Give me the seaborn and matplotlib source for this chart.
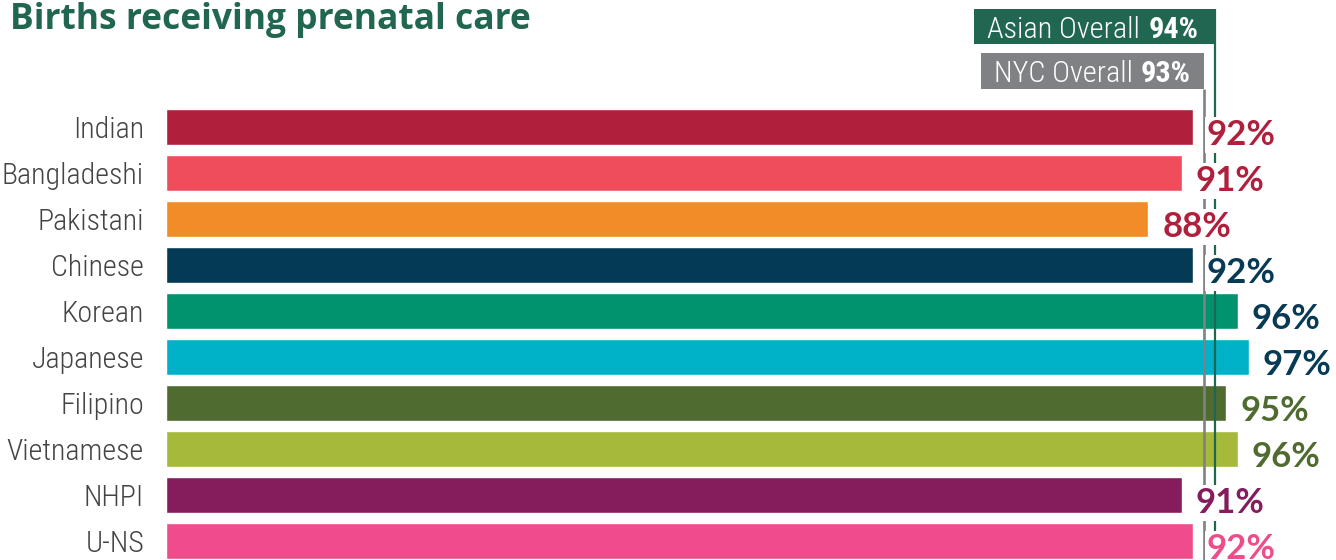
import os
import matplotlib
matplotlib.use("Agg")
import matplotlib.pyplot as plt
import matplotlib.transforms as mtransforms
from matplotlib import font_manager as fm
from matplotlib.patches import Rectangle
import pandas as pd
import seaborn as sns

# Share of births receiving prenatal care, by Asian subgroup
groups = ["Indian", "Bangladeshi", "Pakistani", "Chinese", "Korean",
          "Japanese", "Filipino", "Vietnamese", "NHPI", "U-NS"]
values = [92, 91, 88, 92, 96, 97, 95, 96, 91, 92]
bar_colors = ["#b01f3c", "#ef4d5c", "#f28c26", "#053a55", "#00936e",
              "#00b2c8", "#4f6b30", "#a6b93a", "#851d5c", "#ef4c8c"]
label_colors = ["#b01f3c", "#b01f3c", "#b01f3c", "#063a55", "#063a55",
                "#063a55", "#4f6b30", "#4f6b30", "#851d5c", "#ef4c8c"]
asian_overall = 94
nyc_overall = 93
title = "Births receiving prenatal care"

GREEN = "#216650"
GRAY = "#808184"

sns.set_theme(style="white")
plt.rcParams["font.family"] = ["DejaVu Sans"]


def pick_font(patterns):
    """Return the first installed font file whose name matches a pattern."""
    files = [f.fname for f in fm.fontManager.ttflist]
    files += fm.findSystemFonts()
    for pat in patterns:
        for path in files:
            if os.path.basename(path).lower().startswith(pat.lower()):
                return path
    return None


narrow_regular = pick_font([
    "RobotoCondensed-Light", "RobotoCondensed-Regular",
    "OpenSans-CondLight", "OpenSansCondensed-Light", "OpenSans_Condensed-Light",
    "NotoSans-CondensedLight", "NotoSans-Condensed.",
    "LiberationSansNarrow-Regular", "DejaVuSansCondensed.",
])
narrow_bold = pick_font([
    "RobotoCondensed-Bold", "OpenSans-CondBold", "OpenSansCondensed-Bold",
    "OpenSans_Condensed-Bold", "NotoSans-CondensedBold",
    "LiberationSansNarrow-Bold.", "DejaVuSansCondensed-Bold.",
])


def narrow(size, bold=False):
    path = narrow_bold if bold else narrow_regular
    if path:
        return fm.FontProperties(fname=path, size=size)
    return fm.FontProperties(family="Roboto", size=size * 0.9,
                             weight="bold" if bold else "light")


W, H, DPI = 1336, 560, 100
LEFT = 166
PX_PER_PCT = 11.163
fig = plt.figure(figsize=(W / DPI, H / DPI), dpi=DPI)
ax = fig.add_axes([LEFT / W, 0, 1 - LEFT / W, 1])

df = pd.DataFrame({"group": groups, "value": values})
sns.barplot(data=df, x="value", y="group", hue="group", order=groups,
            hue_order=groups, palette=bar_colors, saturation=1,
            width=0.776, orient="h", legend=False, ax=ax)

ax.set_xlim(0, (W - LEFT) / PX_PER_PCT)
ax.set_ylim(9.415, -2.759)
ax.axis("off")


def shift(dx, dy):
    return mtransforms.offset_copy(ax.transData, fig=fig, x=dx, y=dy, units="dots")


# category names
for i, g in enumerate(groups):
    ax.text(0, i, g, transform=shift(-22, -10.8), ha="right", va="baseline",
            fontproperties=narrow(21.6), color="#444444")

# overall reference lines
ax.plot([asian_overall, asian_overall], [9.415, -2.563], color=GREEN,
        lw=1.6, zorder=2, solid_capstyle="butt")
ax.plot([nyc_overall, nyc_overall], [9.415, -0.824], color=GRAY,
        lw=1.9, zorder=2, solid_capstyle="butt")

# value labels
for i, (v, c) in enumerate(zip(values, label_colors)):
    ax.text(v, i, f"{v}%", transform=shift(14, -18.5), ha="left",
            va="baseline", fontsize=25, family=["Lato", "DejaVu Sans"],
            weight="bold", color=c, zorder=6,
            bbox=dict(boxstyle="square,pad=0.06", fc="white", ec="none"))

# overall boxes
renderer = fig.canvas.get_renderer()
inv = ax.transData.inverted()


def overall_box(value, text, pct, y_top, y_bot, baseline, face, pad_r):
    t_bold = ax.text(value, baseline, pct, transform=shift(-pad_r, 0),
                     ha="right", va="baseline", fontproperties=narrow(21.8, True),
                     color="white", zorder=8)
    bw = t_bold.get_window_extent(renderer).width
    t_reg = ax.text(value, baseline, text, transform=shift(-pad_r - bw - 8, 0),
                    ha="right", va="baseline", fontproperties=narrow(21.8),
                    color="white", zorder=8)
    x0_px = t_reg.get_window_extent(renderer).x0 - 13
    x0 = inv.transform((x0_px, 0))[0]
    ax.add_patch(Rectangle((x0, y_top), value - x0, y_bot - y_top,
                           fc=face, ec="none", zorder=7))


overall_box(asian_overall, "Asian Overall", f"{asian_overall}%",
            -2.563, -1.803, -1.926, GREEN, 17)
overall_box(nyc_overall, "NYC Overall", f"{nyc_overall}%",
            -1.607, -0.824, -0.983, GRAY, 13.5)

fig.text(10 / W, 1 - 28.5 / H, title, ha="left", va="baseline", fontsize=25.5,
         family=["Open Sans", "DejaVu Sans"], weight="bold", color=GREEN)

fig.savefig("out.png", dpi=DPI, facecolor="white")
